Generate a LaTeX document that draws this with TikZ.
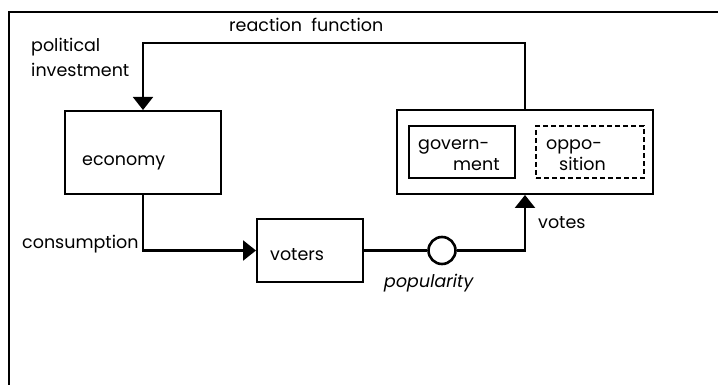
\documentclass[tikz,border=0pt]{standalone}
\usepackage{fontspec}
\setmainfont{Poppins}
\usetikzlibrary{arrows.meta}
\begin{document}
\begin{tikzpicture}[x=1pt,y=-1pt,
  lbl/.style={anchor=base west,inner sep=0pt,font=\fontsize{17.5}{20}\selectfont},
  box/.style={draw,line width=2pt,inner sep=0pt},
  conn/.style={line width=2.4pt},
  tip/.style={-{Triangle[length=13pt,width=20pt]}}]
\useasboundingbox (0,0) rectangle (718,385);
\draw[line width=2pt] (9,385) -- (9,12) -- (718,12);
% boxes
\node[box,minimum width=156pt,minimum height=83pt] (economy) at (143,152.5) {};
\node[box,minimum width=256pt,minimum height=84pt] (govbox) at (525,152) {};
\node[box,minimum width=106pt,minimum height=52pt] (gov) at (462,152) {};
\node[box,dashed,dash pattern=on 5pt off 3pt,minimum width=108pt,minimum height=52pt] (opp) at (590,152) {};
\node[box,minimum width=106pt,minimum height=63pt] (voters) at (310,250.5) {};
\node[draw,circle,line width=2.6pt,minimum size=27pt,inner sep=0pt] (pop) at (442,250.5) {};
% labels
\node[lbl] (teco) at (82,166) {economy};
\node[lbl] (tvot) at (270,260) {voters};
\node[lbl] (tgov1) at (418,150) {govern-};
\node[lbl] (tgov2) at (453,171) {ment};
\node[lbl] (topp1) at (546,150) {oppo-};
\node[lbl] (topp2) at (559,171) {sition};
\node[lbl] (treac) at (229,32) {reaction\ \ function};
\node[lbl] (tpol1) at (31,52) {political};
\node[lbl] (tpol2) at (31,77) {investment};
\node[lbl] (tcons) at (22,248) {consumption};
\node[lbl,xslant=0.18] (tpopu) at (383,287) {popularity};
\node[lbl] (tvotes) at (538,228) {votes};
% connectors
\coordinate (rtop) at (525,43);
\draw[line width=1.8pt,tip] (govbox.north) |- (rtop) -| (economy.north);
\draw[conn,tip] (economy.south) |- (voters.west);
\draw[conn] (voters.east) -- (pop.west);
\draw[conn,tip] (pop.east) -| (govbox.south);
\end{tikzpicture}
\end{document}
